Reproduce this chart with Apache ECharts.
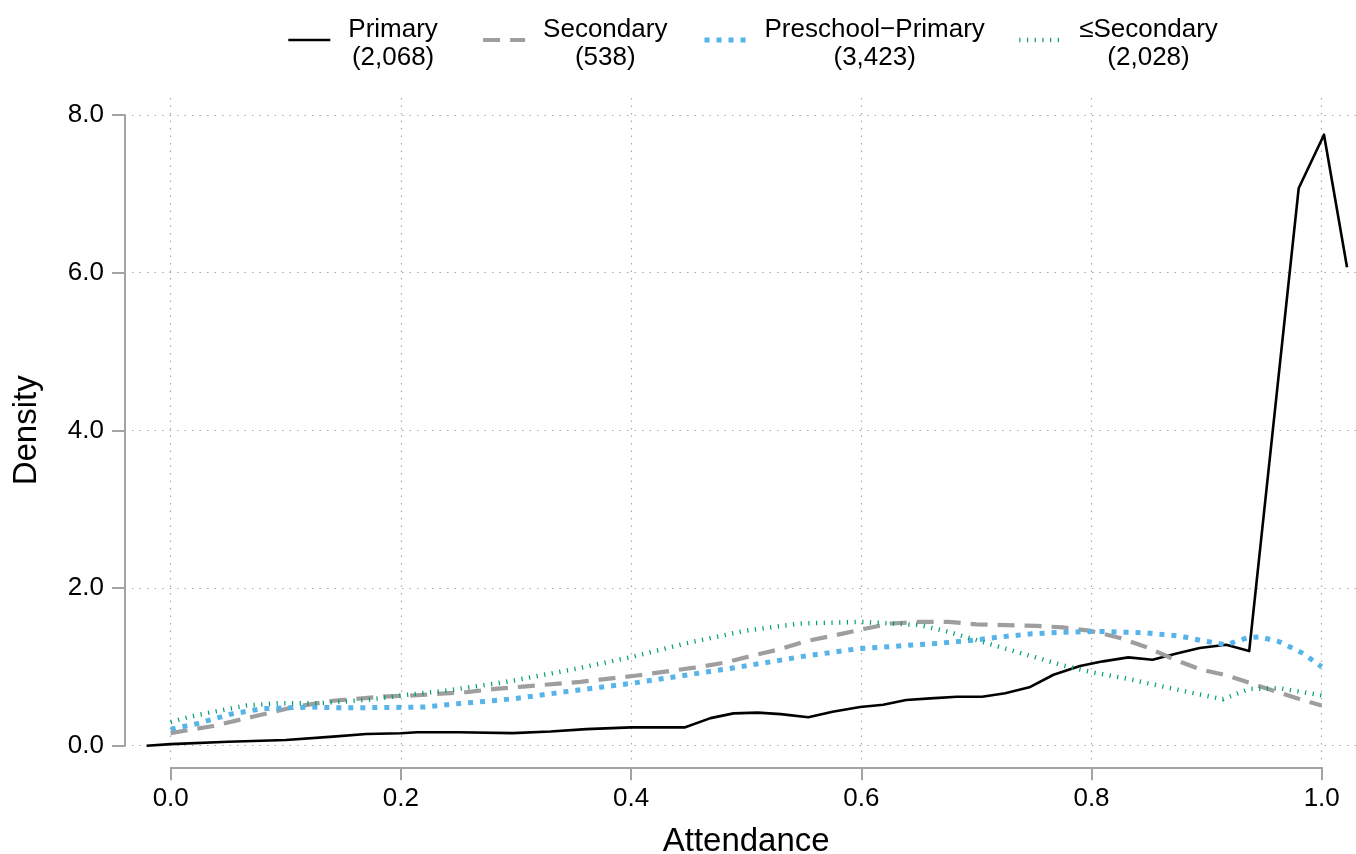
<!DOCTYPE html>
<html><head><meta charset="utf-8">
<script src="https://cdn.jsdelivr.net/npm/echarts@6/dist/echarts.min.js"></script>
<style>html,body{margin:0;padding:0;background:#fff}#c{width:1356px;height:854px}</style>
</head><body><div id="c"></div>
<script>
const seriesNames = ['Primary', 'Secondary', 'Preschool\u2212Primary', '\u2264Secondary'];
const seriesCounts = ['(2,068)', '(538)', '(3,423)', '(2,028)'];
const xTicks = [0, 0.2, 0.4, 0.6, 0.8, 1.0];
const yTicks = [0, 2, 4, 6, 8];

const primaryData = [[-0.021,0.00],[0.0,0.02],[0.05,0.05],[0.10,0.072],[0.141,0.115],[0.17,0.148],[0.20,0.157],[0.214,0.17],[0.25,0.17],[0.297,0.16],[0.33,0.18],[0.361,0.21],[0.40,0.233],[0.447,0.233],[0.469,0.35],[0.489,0.41],[0.51,0.42],[0.53,0.40],[0.554,0.36],[0.575,0.43],[0.599,0.49],[0.619,0.52],[0.639,0.58],[0.66,0.60],[0.683,0.62],[0.705,0.62],[0.725,0.665],[0.746,0.74],[0.767,0.90],[0.79,1.01],[0.81,1.07],[0.832,1.12],[0.853,1.09],[0.874,1.17],[0.894,1.24],[0.917,1.28],[0.937,1.20],[0.98,7.07],[1.002,7.75],[1.022,6.07]];

const secondaryData = [[0,0.16],[0.037,0.25],[0.072,0.37],[0.107,0.49],[0.141,0.57],[0.182,0.62],[0.214,0.64],[0.257,0.68],[0.282,0.72],[0.306,0.75],[0.356,0.81],[0.405,0.89],[0.455,0.99],[0.48,1.05],[0.505,1.14],[0.528,1.22],[0.553,1.33],[0.577,1.40],[0.602,1.48],[0.626,1.55],[0.651,1.57],[0.676,1.57],[0.70,1.54],[0.726,1.53],[0.752,1.52],[0.775,1.50],[0.798,1.46],[0.824,1.37],[0.848,1.25],[0.871,1.10],[0.894,0.97],[0.918,0.89],[0.943,0.77],[0.966,0.66],[0.99,0.55],[1.0,0.51]];

const preschoolData = [[0,0.21],[0.023,0.28],[0.052,0.40],[0.08,0.47],[0.121,0.49],[0.15,0.48],[0.19,0.485],[0.221,0.49],[0.251,0.535],[0.28,0.57],[0.30,0.60],[0.351,0.70],[0.40,0.79],[0.45,0.90],[0.499,1.01],[0.548,1.13],[0.597,1.23],[0.628,1.26],[0.668,1.30],[0.699,1.34],[0.718,1.375],[0.748,1.42],[0.778,1.44],[0.807,1.45],[0.848,1.43],[0.877,1.39],[0.897,1.33],[0.917,1.28],[0.927,1.33],[0.936,1.37],[0.946,1.38],[0.963,1.32],[0.984,1.17],[1.0,1.00]];

const leSecondaryData = [[0,0.30],[0.017,0.37],[0.037,0.43],[0.066,0.51],[0.095,0.54],[0.13,0.54],[0.17,0.58],[0.202,0.64],[0.24,0.70],[0.283,0.79],[0.299,0.83],[0.35,0.97],[0.399,1.12],[0.448,1.30],[0.50,1.46],[0.547,1.55],[0.599,1.57],[0.627,1.55],[0.651,1.53],[0.674,1.45],[0.70,1.34],[0.723,1.24],[0.749,1.13],[0.775,1.02],[0.801,0.93],[0.831,0.85],[0.862,0.75],[0.891,0.66],[0.914,0.59],[0.923,0.64],[0.937,0.72],[0.963,0.73],[1.0,0.64]];

const FONT = '"Liberation Sans", Arial, Helvetica, sans-serif';
const AXIS_GRAY = '#a3a3a3';
const GRID_STYLE = { color: '#a8a8a8', width: 1.2, type: [1.5, 6] };

// layout (pixels)
const W = 1356;
const PX_X0 = 170.7, PX_X1 = 1321.7;
const DATA_LEFT = 132, DATA_RIGHT_PX = 1356;
const pxPerX = (PX_X1 - PX_X0) / (xTicks[xTicks.length - 1] - xTicks[0]);
const dataXMin = xTicks[0] - (PX_X0 - DATA_LEFT) / pxPerX;
const dataXMax = xTicks[xTicks.length - 1] + (DATA_RIGHT_PX - PX_X1) / pxPerX;

const chart = echarts.init(document.getElementById('c'), null, { renderer: 'canvas' });

const styles = [
  { color: '#000000', width: 2.6, type: 'solid' },
  { color: '#9e9e9e', width: 4.2, type: [17, 10] },
  { color: '#56B4E9', width: 5, type: [5, 7] },
  { color: '#009E73', width: 4.5, type: [1.2, 6.5] }
];
const datasets = [primaryData, secondaryData, preschoolData, leSecondaryData];
const legendLefts = [287, 481, 702, 1017];

const gridBase = { containLabel: false, outerBoundsMode: 'none' };

const option = {
  animation: false,
  backgroundColor: '#ffffff',
  textStyle: { fontFamily: FONT },
  grid: [
    Object.assign({ left: PX_X0, right: W - PX_X1, top: 115, bottom: 108.3 }, gridBase),
    Object.assign({ left: DATA_LEFT, right: W - DATA_RIGHT_PX, top: 115, bottom: 108.3 }, gridBase),
    Object.assign({ left: PX_X0, right: W - PX_X1, top: 98, bottom: 94 }, gridBase)
  ],
  xAxis: [
    {
      gridIndex: 0, type: 'value', min: xTicks[0], max: xTicks[xTicks.length - 1], interval: 0.2,
      position: 'bottom', offset: 21.6,
      axisLine: { show: true, onZero: false, lineStyle: { color: AXIS_GRAY, width: 2 } },
      axisTick: { show: true, inside: false, length: 13, lineStyle: { color: AXIS_GRAY, width: 2 } },
      axisLabel: { show: true, margin: 19, fontSize: 26, color: '#000', fontFamily: FONT, formatter: v => v.toFixed(1) },
      splitLine: { show: false },
      name: 'Attendance', nameLocation: 'middle', nameGap: 58,
      nameTextStyle: { fontSize: 33, color: '#000', fontFamily: FONT }
    },
    { gridIndex: 1, type: 'value', min: dataXMin, max: dataXMax, show: false },
    {
      gridIndex: 2, type: 'value', min: xTicks[0], max: xTicks[xTicks.length - 1], interval: 0.2,
      axisLine: { show: false }, axisTick: { show: false }, axisLabel: { show: false },
      splitLine: { show: true, lineStyle: GRID_STYLE }
    }
  ],
  yAxis: [
    {
      gridIndex: 0, type: 'value', min: yTicks[0], max: yTicks[yTicks.length - 1], interval: 2,
      position: 'left', offset: 45.7,
      axisLine: { show: true, onZero: false, lineStyle: { color: AXIS_GRAY, width: 2 } },
      axisTick: { show: true, inside: false, length: 13, lineStyle: { color: AXIS_GRAY, width: 2 } },
      axisLabel: { show: true, margin: 21, fontSize: 26, color: '#000', fontFamily: FONT, formatter: v => v.toFixed(1) },
      splitLine: { show: false },
      name: 'Density', nameLocation: 'middle', nameGap: 82, nameRotate: 90,
      nameTextStyle: { fontSize: 33, color: '#000', fontFamily: FONT }
    },
    {
      gridIndex: 1, type: 'value', min: yTicks[0], max: yTicks[yTicks.length - 1], interval: 2,
      axisLine: { show: false }, axisTick: { show: false }, axisLabel: { show: false },
      splitLine: { show: true, lineStyle: GRID_STYLE }
    },
    { gridIndex: 2, type: 'value', min: 0, max: 8, show: false }
  ],
  legend: seriesNames.map((n, i) => ({
    data: [n],
    left: legendLefts[i],
    top: 17,
    padding: 0,
    itemWidth: 42,
    itemHeight: 14,
    itemGap: 0,
    selectedMode: false,
    itemStyle: { opacity: 0 },
    lineStyle: { color: styles[i].color, width: styles[i].width, type: styles[i].type, cap: 'butt' },
    formatter: name => '{c|' + name + '}\n{c|' + seriesCounts[seriesNames.indexOf(name)] + '}',
    textStyle: {
      fontSize: 26, color: '#000', fontFamily: FONT, padding: [8, 0, 0, 13],
      rich: { c: { align: 'center', fontSize: 26, lineHeight: 28, color: '#000', fontFamily: FONT } }
    }
  })),
  series: seriesNames.map((n, i) => ({
    name: n,
    type: 'line',
    xAxisIndex: 1,
    yAxisIndex: 1,
    data: datasets[i],
    symbol: 'none',
    showSymbol: false,
    clip: false,
    smooth: false,
    color: styles[i].color,
    lineStyle: { color: styles[i].color, width: styles[i].width, type: styles[i].type, cap: 'butt', join: 'round' },
    z: 2 + i
  }))
};
chart.setOption(option);
</script>
</body></html>
